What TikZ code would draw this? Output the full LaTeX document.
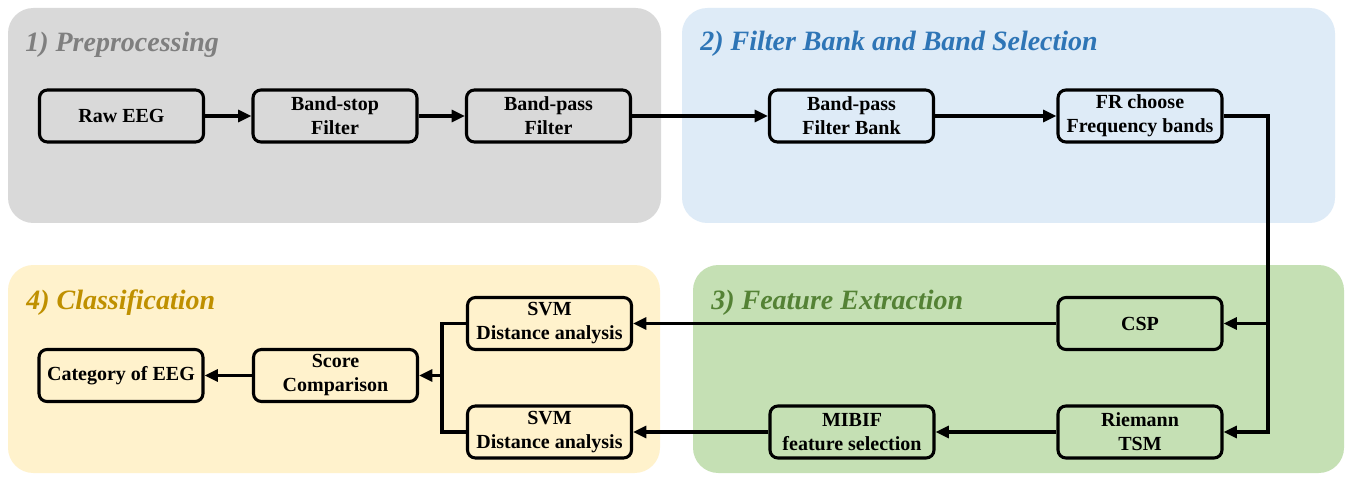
\documentclass[tikz,border=0pt]{standalone}
\usepackage{fontspec}
\setmainfont{Liberation Serif}
\newfontfamily\tnr{Liberation Serif}
\usetikzlibrary{arrows.meta}
\definecolor{pgray}{HTML}{D9D9D9}
\definecolor{pblue}{HTML}{DEEBF7}
\definecolor{pgreen}{HTML}{C5E0B4}
\definecolor{pyellow}{HTML}{FFF2CC}
\definecolor{tgray}{HTML}{7F7F7F}
\definecolor{tblue}{HTML}{2E75B6}
\definecolor{tgreen}{HTML}{548235}
\definecolor{tgold}{HTML}{BF9000}
\begin{document}
\begin{tikzpicture}[x=0.75pt,y=-0.75pt,
 panel/.style={rounded corners=19pt},
 box/.style={draw=black, line width=2.3pt, rounded corners=6pt, minimum width=123pt, minimum height=39pt, inner sep=1pt, align=center, font=\tnr\fontsize{15}{18}\selectfont\bfseries, text=black},
 title/.style={anchor=base west, font=\tnr\fontsize{21}{25}\selectfont\bfseries\itshape, inner sep=0pt},
 conn/.style={line width=2.3pt},
 arr/.style={conn, -{Triangle[length=10pt,width=9pt]}}
]
\useasboundingbox[fill=white] (0,0) rectangle (1350,481);
% panels
\fill[pgray, panel] (8,8) rectangle (661,223);
\fill[pblue, panel] (682,8) rectangle (1335,223);
\fill[pgreen, panel] (693,265) rectangle (1344,473);
\fill[pyellow, panel] (8,265) rectangle (660,473);
% titles
\node[title, text=tgray] (t1) at (25,52) {1) Preprocessing};
\node[title, text=tblue] (t2) at (700,51) {2) Filter Bank and Band Selection};
\node[title, text=tgreen] (t3) at (711,310) {3) Feature Extraction};
\node[title, text=tgold] (t4) at (26,309) {4) Classification};
% boxes
\node[box] (raw) at (121.5,116) {Raw EEG};
\node[box] (bstop) at (335,116) {Band-stop\\Filter};
\node[box] (bpass) at (548.5,116) {Band-pass\\Filter};
\node[box] (fbank) at (851.5,116) {Band-pass\\Filter Bank};
\node[box] (fr) at (1140,116) {FR choose\\Frequency bands};
\node[box] (csp) at (1140,323.5) {CSP};
\node[box] (riem) at (1140,432) {Riemann\\TSM};
\node[box] (mibif) at (852,432) {MIBIF\\feature selection};
\node[box] (svm1) at (549.5,323.5) {SVM\\Distance analysis};
\node[box] (svm2) at (549.5,432) {SVM\\Distance analysis};
\node[box] (score) at (335.5,375.5) {Score\\Comparison};
\node[box] (cat) at (121,375.5) {Category of EEG};
% junction points
\coordinate (rt) at (1268,116);
\coordinate (rm) at (1268,323.5);
\coordinate (rb) at (1268,432);
\coordinate (lt) at (442,323.5);
\coordinate (lm) at (442,375.5);
\coordinate (lb) at (442,432);
% connectors
\draw[arr] (raw) -- (bstop);
\draw[arr] (bstop) -- (bpass);
\draw[arr] (bpass) -- (fbank);
\draw[arr] (fbank) -- (fr);
\draw[arr] (fr.east) -- (rt) -- (rb) -- (riem.east);
\draw[arr] (rm) -- (csp.east);
\draw[arr] (csp.west) -- (svm1.east);
\draw[arr] (riem) -- (mibif);
\draw[arr] (mibif) -- (svm2);
\draw[conn] (svm1.west) -- (lt) -- (lb) -- (svm2.west);
\draw[arr] (lm) -- (score.east);
\draw[arr] (score) -- (cat);
\end{tikzpicture}
\end{document}
